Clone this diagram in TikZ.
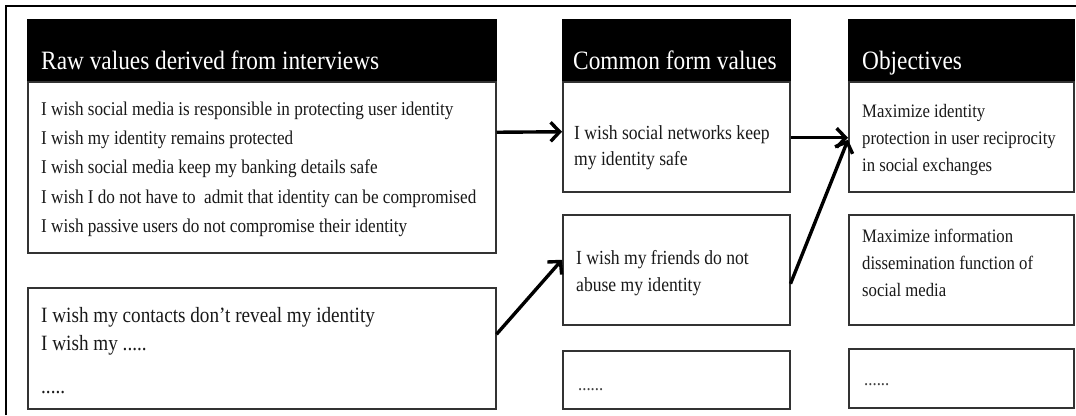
\documentclass[tikz,border=0pt]{standalone}
\usepackage{fontspec}
\setmainfont{Liberation Serif}[FakeStretch=0.88]
\usetikzlibrary{arrows.meta,shadows}
\begin{document}
\begin{tikzpicture}[x=1pt,y=-1pt,
  panel/.style={draw=black!80, line width=1.5pt, fill=white, inner sep=0pt, anchor=north west,
    drop shadow={shadow xshift=0.8pt, shadow yshift=-1.6pt, fill=black!60, opacity=0.8}},
  head/.style={fill=black, draw=black, line width=1.5pt, inner sep=0pt, anchor=north west},
  headtxt/.style={text=white, font=\fontsize{26.5}{30}\selectfont, anchor=base west, inner sep=0pt},
  body/.style={text=black!90, align=left, anchor=north west, inner sep=0pt, font=\fontsize{19.5}{29.2}\selectfont},
  dots/.style={text=black!75, anchor=base west, inner sep=0pt, font=\fontsize{19}{22}\selectfont},
  flow/.style={line width=3.4pt, -{Straight Barb[length=9pt, width=19pt, line width=3.4pt]}}
]
\useasboundingbox (0,0) rectangle (1076,415);
% outer frame
\draw[line width=2pt] (6,415) -- (6,6) -- (1076,6);

% column 1: raw values
\node[head, minimum width=468pt, minimum height=62pt] (rawh) at (27,19) {};
\node[panel, minimum width=468pt, minimum height=171pt] (raw) at (27,81) {};
\node[panel, minimum width=468pt, minimum height=121pt] (rawb) at (27,287) {};

% column 2: common form values
\node[head, minimum width=227pt, minimum height=62pt] (comh) at (562,19) {};
\node[panel, minimum width=227pt, minimum height=110pt] (com) at (562,81) {};
\node[panel, minimum width=227pt, minimum height=110pt] (com2) at (562,214) {};
\node[panel, minimum width=227pt, minimum height=58pt] (com3) at (562,350) {};

% column 3: objectives
\node[head, minimum width=225pt, minimum height=62pt] (objh) at (848,19) {};
\node[panel, minimum width=225pt, minimum height=110pt] (obj) at (848,81) {};
\node[panel, minimum width=225pt, minimum height=110pt] (obj2) at (848,214) {};
\node[panel, minimum width=225pt, minimum height=59pt] (obj3) at (848,348) {};

% header texts
\node[headtxt] (rawht) at (41,69) {Raw values derived from interviews};
\node[headtxt] (comht) at (573,69) {Common form values};
\node[headtxt] (objht) at (862,69) {Objectives};

% box texts
\node[body] (rawt) at (41,101.7) {I wish social media is responsible in protecting user identity\\
I wish my identity remains protected\\
I wish social media keep my banking details safe\\
I wish I do not have to~ admit that identity can be compromised\\
I wish passive users do not compromise their identity};
\node[body, font=\fontsize{21.8}{28}\selectfont] (rawbt) at (41,307) {I wish my contacts don’t reveal my identity\\
I wish my .....\\[15pt]
.....};
\node[body, font=\fontsize{20}{26.5}\selectfont] (comt) at (574,125.3) {I wish social networks keep\\my identity safe};
\node[body, font=\fontsize{20}{27}\selectfont] (com2t) at (576,250.3) {I wish my friends do not\\abuse my identity};
\node[dots] (com3t) at (578,390) {......};
\node[body, font=\fontsize{19}{27}\selectfont] (objt) at (862,104) {Maximize identity\\protection in user reciprocity\\in social exchanges};
\node[body, font=\fontsize{19}{27}\selectfont] (obj2t) at (862,229) {Maximize information\\dissemination function of\\social media};
\node[dots] (obj3t) at (864,385) {......};

% connectors
\draw[flow] ([yshift=35pt]raw.east) -- ([yshift=5pt]com.west);
\draw[flow] ([yshift=-1pt]com.east) -- ([yshift=-1pt]obj.west);
\draw[flow] ([yshift=14pt]rawb.east) -- ([yshift=10pt]com2.west);
\draw[flow] ([yshift=-14pt]com2.east) -- ([yshift=-3pt]obj.west);
\end{tikzpicture}
\end{document}
